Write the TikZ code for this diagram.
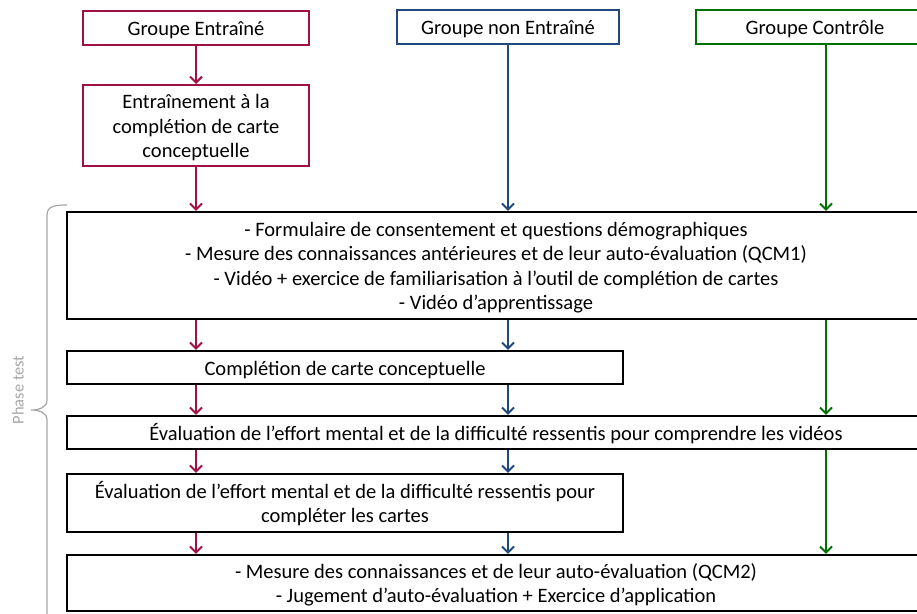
\documentclass[tikz,border=0pt]{standalone}
\usepackage{fontspec}
\setmainfont{Carlito}
\usepackage{tikz}
\usetikzlibrary{arrows.meta,positioning}
\definecolor{trainred}{RGB}{160,16,68}
\definecolor{untrainblue}{RGB}{31,73,125}
\definecolor{controlgreen}{RGB}{0,112,0}
\definecolor{phasegray}{RGB}{166,166,166}

\begin{document}
\begin{tikzpicture}[
    x=1pt, y=-1pt,
    font=\fontsize{20.5}{24.5}\selectfont,
    >={Straight Barb[length=6pt,width=12pt]},
    group/.style={rectangle, draw=#1, line width=2pt, minimum height=34pt,
                  inner sep=0pt, align=flush center,
                  execute at begin node=\rule{0pt}{19.5pt},
                  execute at end node=\rule[-4.5pt]{0pt}{0pt}},
    stage/.style={rectangle, draw=black, line width=2.2pt, inner sep=0pt, align=flush center,
                  text width=#1, minimum width=#1,
                  execute at begin node=\rule{0pt}{19.5pt},
                  execute at end node=\rule[-4.5pt]{0pt}{0pt}},
    lane/.style={->, line width=2pt, draw=#1}
]
\useasboundingbox (0,0) rectangle (917,613);

% Groups
\node[group=trainred, minimum width=226pt] (trained) at (196,28) {Groupe Entraîné};
\node[group=untrainblue, minimum width=222pt] (untrained) at (508,27) {Groupe non Entraîné};
\node[group=controlgreen, minimum width=238pt] (control) at (815,27) {Groupe Contrôle};
\coordinate (greenlane) at (826,0);

% Training
\node[group=trainred, text width=226pt, minimum height=81pt, below=38pt of trained] (training)
    {Entraînement à la\\complétion de carte\\conceptuelle};

% Test phase
\node[stage=858pt, minimum height=107pt] (consent) at (496,265.5)
    {- Formulaire de consentement et questions démographiques\\
     - Mesure des connaissances antérieures et de leur auto-évaluation (QCM1)\\
     - Vidéo + exercice de familiarisation à l’outil de complétion de cartes\\
     - Vidéo d’apprentissage};
\node[stage=556pt, minimum height=33pt] (mapping) at (345,367.5)
    {Complétion de carte conceptuelle};
\node[stage=858pt, minimum height=33pt] (effortvideo) at (496,432.5)
    {Évaluation de l’effort mental et de la difficulté ressentis pour comprendre les vidéos};
\node[stage=556pt, minimum height=58pt] (effortmap) at (345,503)
    {Évaluation de l’effort mental et de la difficulté ressentis pour\\compléter les cartes};
\node[stage=858pt, minimum height=56pt] (posttest) at (496,583)
    {- Mesure des connaissances et de leur auto-évaluation (QCM2)\\
     - Jugement d’auto-évaluation + Exercice d’application};

% Phase label
\draw[phasegray, line width=1.2pt] (67,205) .. controls (52,205) and (47,207) .. (47,216)
    -- (47,400) .. controls (47,407) and (40,410) .. (31,410)
    .. controls (40,410) and (47,413) .. (47,420) -- (47,625);
\node[rotate=90, text=phasegray, font=\fontsize{16.5}{19}\selectfont] (phase) at (18,390) {Phase test};

% Trained group
\draw[lane=trainred] (trained) -- (training);
\draw[lane=trainred] (training) -- (training |- consent.north);
\draw[lane=trainred] (training |- consent.south) -- (training |- mapping.north);
\draw[lane=trainred] (training |- mapping.south) -- (training |- effortvideo.north);
\draw[lane=trainred] (training |- effortvideo.south) -- (training |- effortmap.north);
\draw[lane=trainred] (training |- effortmap.south) -- (training |- posttest.north);

% Untrained group
\draw[lane=untrainblue] (untrained) -- (untrained |- consent.north);
\draw[lane=untrainblue] (untrained |- consent.south) -- (untrained |- mapping.north);
\draw[lane=untrainblue] (untrained |- mapping.south) -- (untrained |- effortvideo.north);
\draw[lane=untrainblue] (untrained |- effortvideo.south) -- (untrained |- effortmap.north);
\draw[lane=untrainblue] (untrained |- effortmap.south) -- (untrained |- posttest.north);

% Control group
\draw[lane=controlgreen] (greenlane |- control.south) -- (greenlane |- consent.north);
\draw[lane=controlgreen] (greenlane |- consent.south) -- (greenlane |- effortvideo.north);
\draw[lane=controlgreen] (greenlane |- effortvideo.south) -- (greenlane |- posttest.north);

\end{tikzpicture}
\end{document}
